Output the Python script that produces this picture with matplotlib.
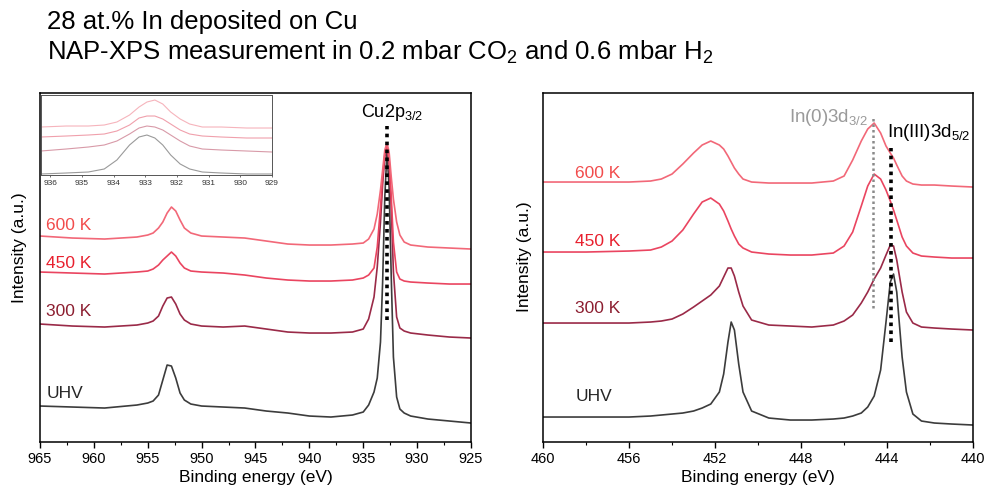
import matplotlib
matplotlib.use("Agg")
import matplotlib.pyplot as plt
from matplotlib.ticker import MultipleLocator

plt.rcParams['font.family'] = ['Liberation Sans', 'DejaVu Sans']
plt.rcParams['mathtext.default'] = 'regular'

# ---- Cu 2p region (left panel), intensities in arbitrary units ----
cu_be = [965, 962, 959, 956, 955, 954.5, 954, 953.6, 953.2, 952.8, 952.4, 952.0, 951.6, 951.0,
         950, 948, 946, 944, 942, 940, 938, 936, 935, 934.5, 934, 933.7, 933.4, 933.2, 933.0,
         932.8, 932.6, 932.4, 932.2, 931.9, 931.6, 931.2, 930.6, 929, 927, 925]
cu_uhv = [36, 35, 34, 37, 39, 41, 47, 62, 77, 76, 64, 49, 42, 38,
          36, 35, 34, 31, 29, 26, 25, 27, 30, 37, 50, 64, 100, 160, 245,
          290, 255, 165, 85, 45, 33, 29, 26, 23, 21, 19]
cu_300 = [118, 116, 115, 117, 119, 121, 126, 136, 144, 145, 138, 128, 122, 118,
          116, 115, 116, 113, 110, 109, 109, 110, 113, 123, 145, 175, 220, 258, 285,
          295, 280, 235, 170, 125, 114, 111, 109, 107, 105, 104]
cu_450 = [170, 169, 168, 170, 171, 173, 177, 182, 186, 190, 186, 179, 174, 171,
          170, 169, 167, 164, 162, 161, 161, 162, 164, 167, 174, 195, 235, 265, 288,
          297, 282, 245, 200, 170, 163, 161, 160, 159, 158, 158]
cu_600 = [206, 204, 203, 205, 207, 209, 214, 220, 229, 235, 231, 222, 214, 209,
          206, 205, 204, 201, 198, 197, 197, 198, 199, 203, 213, 228, 252, 272, 292,
          299, 290, 265, 243, 220, 207, 200, 197, 195, 194, 193]

# inset: zoom on Cu 2p3/2
inset_be = [936.3, 935.5, 934.8, 934.3, 933.9, 933.5, 933.2, 932.95, 932.7, 932.45, 932.2,
            931.9, 931.6, 931.2, 930.6, 929.8, 929]
inset_uhv = [1, 2, 3, 6, 15, 30, 38, 40, 37, 30, 20, 11, 6, 3, 2, 1, 1]
inset_300 = [24, 26, 28, 30, 34, 41, 47, 49, 48, 45, 40, 34, 29, 26, 25, 24, 23]
inset_450 = [38, 39, 40, 41, 44, 50, 57, 59, 59, 56, 51, 45, 41, 39, 38, 37, 37]
inset_600 = [48, 49, 49, 50, 53, 60, 68, 73, 75, 71, 63, 56, 51, 48, 48, 47, 47]

# ---- In 3d region (right panel) ----
in_be = [460, 458, 456, 455, 454.5, 454, 453.5, 453, 452.6, 452.2, 451.8, 451.6, 451.4, 451.25,
         451.1, 450.9, 450.7, 450.3, 449.5, 448.5, 447.5, 446.5, 446, 445.6, 445.2, 444.9, 444.6,
         444.3, 444.05, 443.85, 443.7, 443.55, 443.3, 443.1, 442.8, 442.4, 441.8, 441, 440]
in_uhv = [25, 25, 25, 26, 27, 28, 29, 31, 34, 38, 50, 68, 100, 120,
          112, 78, 50, 31, 24, 22, 22, 23, 24, 26, 29, 35, 46,
          72, 120, 160, 168, 150, 85, 50, 28, 21, 19, 18, 17]
in_300 = [119, 119, 119, 120, 121, 123, 128, 135, 141, 147, 156, 165, 174, 174,
          166, 150, 136, 122, 117, 116, 115, 117, 121, 127, 139, 150, 163,
          174, 187, 197, 196, 182, 150, 130, 119, 115, 114, 113, 112]
in_450 = [190, 190, 191, 192, 195, 201, 212, 228, 240, 244, 238, 231, 221, 213,
          206, 198, 194, 190, 188, 187, 187, 189, 196, 210, 236, 256, 268,
          263, 252, 241, 232, 222, 205, 196, 189, 186, 185, 184, 184]
in_600 = [260, 260, 260, 261, 263, 268, 278, 289, 297, 301, 297, 293, 286, 280,
          274, 268, 263, 260, 259, 259, 259, 261, 266, 282, 301, 313, 319,
          309, 296, 289, 284, 277, 266, 261, 258, 257, 257, 256, 255]

labels = ["UHV", "300 K", "450 K", "600 K"]
line_colors = ["#3c3c3c", "#9a2a48", "#ea4560", "#f26878"]
label_colors = ["#262626", "#8c1e30", "#e8202e", "#f24c4c"]
inset_colors = ["#9a9a9a", "#d89aa8", "#f0a0ac", "#f6b4bc"]

fig = plt.figure(figsize=(9.87, 4.98), dpi=100)
ax1 = fig.add_axes([0.0405, 0.1124, 0.4367, 0.7008])
ax2 = fig.add_axes([0.5502, 0.1124, 0.4357, 0.7008])

fig.text(0.0476, 0.956, "28 at.% In deposited on Cu", fontsize=18.5, va="center")
fig.text(0.0476, 0.8956, "NAP-XPS measurement in 0.2 mbar CO$_2$ and 0.6 mbar H$_2$",
         fontsize=18.5, va="center")

for ys, c in zip([cu_uhv, cu_300, cu_450, cu_600], line_colors):
    ax1.plot(cu_be, ys, color=c, lw=1.2)
for ys, c in zip([in_uhv, in_300, in_450, in_600], line_colors):
    ax2.plot(in_be, ys, color=c, lw=1.2)

ax1.plot([932.8, 932.8], [122, 316], color="black", lw=2.6, ls=(0, (1, 1.2)))
ax1.text(932.3, 330, "Cu2p$_{3/2}$", ha="center", va="center", fontsize=13)

ax2.plot([444.65, 444.65], [134, 325], color="#8a8a8a", lw=1.8, ls=(0, (1, 1.2)))
ax2.plot([443.8, 443.8], [100, 294], color="black", lw=2.6, ls=(0, (1, 1.2)))
ax2.text(444.88, 325, "In(0)3d$_{3/2}$", ha="right", va="center", fontsize=13.5, color="#9a9a9a")
ax2.text(444.0, 310, "In(III)3d$_{5/2}$", ha="left", va="center", fontsize=13.5)

left_label_y = [49, 131, 179, 217]
right_label_y = [46, 134, 201, 269]
for lab, c, yl, yr in zip(labels, label_colors, left_label_y, right_label_y):
    ax1.text(964.4, yl, lab, color=c, fontsize=12.5, va="center", ha="left")
    ax2.text(458.5, yr, lab, color=c, fontsize=12.5, va="center", ha="left")

ax1.set_xlim(965, 925)
ax2.set_xlim(460, 440)
ax1.xaxis.set_major_locator(MultipleLocator(5))
ax1.xaxis.set_minor_locator(MultipleLocator(2.5))
ax2.xaxis.set_major_locator(MultipleLocator(4))
ax2.xaxis.set_minor_locator(MultipleLocator(2))

for ax, lx, ly in [(ax1, -0.030, 0.556), (ax2, -0.026, 0.53)]:
    ax.set_ylim(0, 349)
    ax.set_yticks([])
    ax.tick_params(axis="x", which="major", direction="out", length=4, width=1, labelsize=10.5, pad=3)
    ax.tick_params(axis="x", which="minor", direction="out", length=2.5, width=0.8)
    for s in ax.spines.values():
        s.set_linewidth(1.1)
    ax.set_xlabel("Binding energy (eV)", fontsize=12.5, labelpad=3)
    ax.set_ylabel("Intensity (a.u.)", fontsize=12.5)
    ax.yaxis.set_label_coords(lx, ly)

# inset
axi = fig.add_axes([0.0415, 0.6486, 0.234, 0.1606])
for ys, c in zip([inset_uhv, inset_300, inset_450, inset_600], inset_colors):
    axi.plot(inset_be, ys, color=c, lw=0.8)
axi.set_xlim(936.3, 929)
axi.set_ylim(0, 80)
axi.set_yticks([])
axi.set_xticks(range(936, 928, -1))
axi.tick_params(axis="x", length=1.5, width=0.5, labelsize=6, pad=2, colors="#333333")
for s in axi.spines.values():
    s.set_linewidth(0.7)
    s.set_color("#555555")

fig.savefig("out.png", dpi=100)
